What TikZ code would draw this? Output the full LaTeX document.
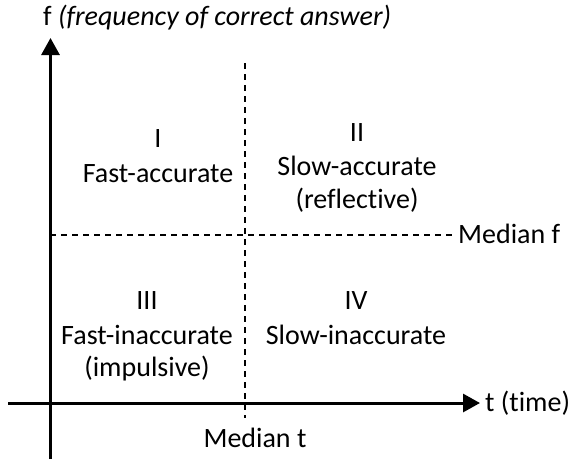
\documentclass[tikz,border=0pt]{standalone}
\usepackage{fontspec}
\setmainfont{Carlito}[Ligatures=NoCommon]
\usetikzlibrary{arrows.meta}
\begin{document}
\begin{tikzpicture}[x=1pt,y=-1pt,
  lbl/.style={inner sep=0pt, anchor=base, font=\fontsize{28}{33}\selectfont},
  axis/.style={line width=3pt, -{Triangle[length=17pt,width=18pt]}},
  medline/.style={line width=2pt, dash pattern=on 6pt off 5pt}]
\useasboundingbox (0,0) rectangle (572,459);
% axes
\coordinate (yb) at (50.5,459);
\coordinate (yt) at (50.5,38);
\coordinate (xl) at (8,403);
\coordinate (xr) at (480,403);
\draw[axis] (yb) -- (yt);
\draw[axis] (xl) -- (xr);
% medians
\coordinate (mt1) at (244.5,63);
\coordinate (mt2) at (244.5,418);
\coordinate (mf1) at (50,235);
\coordinate (mf2) at (454,235);
\draw[medline] (mt1) -- (mt2);
\draw[medline] (mf1) -- (mf2);
% labels
\node[lbl, anchor=base west] (ylab) at (43,25) {f \textit{(frequency of correct answer)}};
\node[lbl, anchor=base west] (xlab) at (485,411) {t (time)};
\node[lbl, anchor=base west] (mflab) at (458,243) {Median f};
\node[lbl] (mtlab) at (255,447) {Median t};
% quadrant I
\node[lbl] (q1n) at (158,147) {I};
\node[lbl] (q1t) at (158,182) {Fast-accurate};
% quadrant II
\node[lbl] (q2n) at (357,141) {II};
\node[lbl] (q2t) at (357,175) {Slow-accurate};
\node[lbl] (q2s) at (357,208) {(reflective)};
% quadrant III
\node[lbl] (q3n) at (147,309) {III};
\node[lbl] (q3t) at (147,344) {Fast-inaccurate};
\node[lbl] (q3s) at (147,376) {(impulsive)};
% quadrant IV
\node[lbl] (q4n) at (356,309) {IV};
\node[lbl] (q4t) at (356,344) {Slow-inaccurate};
\end{tikzpicture}
\end{document}
